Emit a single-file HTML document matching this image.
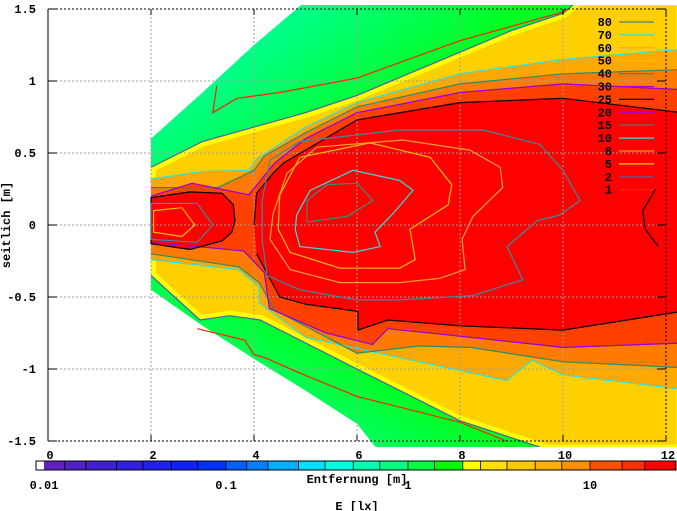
<!DOCTYPE html>
<html><head><meta charset="utf-8">
<style>
html,body{margin:0;padding:0;background:#fff;}
svg{display:block;font-family:"Liberation Mono",monospace;font-weight:bold;font-size:12px;}
</style></head>
<body>
<svg id="chart" width="677" height="511" viewBox="0 0 677 511" xmlns="http://www.w3.org/2000/svg">
<defs>
<linearGradient id="gTop" gradientUnits="userSpaceOnUse" x1="190" y1="60" x2="290" y2="190"><stop offset="0" stop-color="#00ffa0"/><stop offset="1" stop-color="#00ff20"/></linearGradient>
<linearGradient id="gBot" gradientUnits="userSpaceOnUse" x1="230" y1="420" x2="290" y2="320"><stop offset="0" stop-color="#00ff90"/><stop offset="1" stop-color="#00ff20"/></linearGradient>
<clipPath id="plotClip"><rect x="48" y="5" width="629" height="442"/></clipPath>
</defs>
<g id="fills" clip-path="url(#plotClip)"></g>
<g id="grid"></g>
<g id="lines" clip-path="url(#plotClip)"></g>
<g id="axes"></g>
<g id="legend"></g>
<g id="cbar"></g>
</svg>
<script>
// ---- data (data units: x = Entfernung [m], y = seitlich [m]) ----
const xTicks = [0,2,4,6,8,10,12];
const yTicks = [-1.5,-1,-0.5,0,0.5,1,1.5];
const yTickLabels = ["-1.5","-1","-0.5","0","0.5","1","1.5"];
const envTop = [[2,0.6],[3,0.92],[4,1.25],[5.02,1.56],[12.3,1.56]];
const envBot = [[12.3,-1.56],[6.4,-1.56],[6,-1.38],[5,-1.15],[4,-0.93],[3,-0.7],[2,-0.45]];
const lev2Top = [[2,0.4],[3,0.58],[4,0.68],[5,0.78],[6,0.9],[7,1.05],[8,1.2],[9,1.35],[10,1.47],[10.3,1.56],[12.3,1.56]];
const lev2Bot = [[12.3,-1.56],[9.7,-1.56],[8,-1.36],[6,-1.0],[4.12,-0.66],[3.53,-0.63],[2.95,-0.66],[2,-0.35]];
const lev10Top = [[2,0.32],[3,0.37],[3.9,0.38],[4.05,0.46],[5,0.68],[6,0.85],[8,1.05],[10,1.15],[12.3,1.22]];
const lev10Bot = [[12.3,-1.14],[10,-1.04],[9.4,-0.94],[8.9,-1.08],[5,-0.78],[4.1,-0.54],[4.1,-0.43],[3.7,-0.31],[2,-0.24]];
const lev15Top = [[2,0.26],[3.3,0.26],[4.0,0.38],[4.2,0.48],[5,0.64],[6,0.82],[8,0.98],[10,1.05],[12.3,1.08]];
const lev15Bot = [[12.3,-0.99],[10,-0.95],[8.2,-0.85],[7.2,-0.84],[6.0,-0.89],[4.4,-0.59],[4.1,-0.4],[3.7,-0.29],[2,-0.2]];
const lev20Top = [[2,0.2],[2.8,0.29],[3.9,0.21],[4.4,0.43],[5,0.6],[6,0.78],[8,0.92],[10,0.98],[12.3,0.94]];
const lev20Bot = [[12.3,-0.82],[10,-0.85],[8.2,-0.78],[6.6,-0.72],[6.3,-0.83],[5.4,-0.75],[4.3,-0.58],[4.2,-0.33],[3.8,-0.18],[2,-0.12]];
const lev25Top = [[4.0,0.0],[4.05,0.22],[4.37,0.36],[4.57,0.43],[5,0.52],[6,0.73],[8,0.85],[10,0.88],[12.3,0.78]];
const lev25Bot = [[12.3,-0.6],[10,-0.73],[8,-0.7],[6.6,-0.66],[6.02,-0.73],[6.02,-0.6],[5.0,-0.55],[4.5,-0.5],[4.05,-0.2]];
const blob25 = [[2,0.19],[2.76,0.23],[3.38,0.22],[3.6,0.14],[3.63,0.03],[3.57,-0.05],[3.38,-0.11],[2.76,-0.17],[2,-0.13]];
const loop40 = [[4.31,0.45],[4.89,0.58],[6.83,0.66],[8.45,0.66],[9.55,0.56],[10,0.38],[10.33,0.17],[9.94,0.07],[9.5,0.03],[8.91,-0.15],[9.22,-0.38],[8.25,-0.49],[6.83,-0.52],[6,-0.52],[4.89,-0.45],[4.25,-0.35],[4.16,-0.1],[4.16,0.17]];
const loop60 = [[5.22,0.54],[6.89,0.59],[8.19,0.52],[8.78,0.4],[8.83,0.26],[8.25,0.06],[8.04,-0.1],[8.1,-0.31],[7.61,-0.37],[6.83,-0.4],[5.67,-0.4],[4.7,-0.31],[4.31,-0.1],[4.37,0.08],[4.64,0.36]];
const loop50 = [[4.89,0.47],[6.25,0.57],[7.42,0.47],[7.84,0.28],[7.77,0.14],[7.03,-0.03],[7.13,-0.24],[6.83,-0.3],[5.67,-0.3],[4.7,-0.19],[4.47,-0.03],[4.5,0.21]];
const loop70 = [[4.83,0.07],[5.09,0.24],[5.92,0.38],[6.83,0.31],[7.09,0.24],[6.7,0.08],[6.35,-0.05],[6.45,-0.15],[5.92,-0.19],[4.89,-0.15],[4.8,-0.03]];
const loop80 = [[5.03,0.17],[5.42,0.28],[6,0.29],[6.31,0.17],[5.81,0.06],[5.03,0.02]];
const blob40 = [[2,0.15],[2.9,0.15],[3.2,0.0],[2.9,-0.12],[2,-0.1]];
const blob50 = [[2.05,0.1],[2.6,0.12],[2.85,0.0],[2.6,-0.08],[2.05,-0.05]];
const lev1Top = [[3.28,0.97],[3.2,0.78],[3.67,0.88],[4.5,0.92],[6,1.02],[8,1.28],[10,1.48],[10.1,1.5]];
const lev1Bot = [[2.9,-0.72],[3.82,-0.8],[4.0,-0.9],[4.2,-0.92],[4.9,-1.03],[6,-1.19],[8,-1.37],[8.9,-1.5]];
const rightBlob25 = [[11.8,0.25],[11.55,0.1],[11.6,-0.03],[11.85,-0.15]];
const legendLevels = ["80","70","60","50","40","30","25","20","15","10","8","5","2","1"];
const legendColors = ["#3c8a7a","#30e0e0","#ffa030","#ffc000","#3c8a7a","#a000ff","#000000","#9000e0","#2e8b6a","#30e0e0","#ff9900","#ffd000","#5060a0","#ff2000"];
const cbTickVals = [0.01,0.1,1,10];
const cbTickLabels = ["0.01","0.1","1","10"];
const cbEdges = [0.01,0.013,0.017,0.025,0.035,0.05,0.07,0.1,0.13,0.17,0.25,0.35,0.5,0.7,1,1.4,2,2.5,3.5,5,7,10,15,20,30];
const cbColors = ["#6020c0","#5020c8","#4020d0","#3020e0","#2020f0","#1020ff","#0030ff","#0060ff","#0080ff","#00b0ff","#00e0ff","#00ffe0","#00ffb0","#00ff80","#00ff40","#00ff00","#ffff00","#ffe000","#ffc800","#ffb000","#ff9000","#ff5000","#ff3000","#ff0000"];

const NS="http://www.w3.org/2000/svg";
const X0=48,X1=666,Y0=9,Y1=441;
function X(v){return X0+(v-0)/(12-0)*(X1-X0);}
function Y(v){return Y1-(v+1.5)/3*(Y1-Y0);}
function mk(tag,attrs,parent){const e=document.createElementNS(NS,tag);for(const k in attrs)e.setAttribute(k,attrs[k]);parent.appendChild(e);return e;}
function pts(a){return a.map(p=>X(p[0]).toFixed(1)+","+Y(p[1]).toFixed(1)).join(" ");}
const fills=document.getElementById('fills'),lines=document.getElementById('lines');

const envUp=envTop.concat([[12.3,0],[2,0]]);
const envDn=[[2,0],[12.3,0]].concat(envBot);
let e=mk('polygon',{points:pts(envUp),fill:'url(#gTop)'},fills);


e=mk('polygon',{points:pts(envDn),fill:'url(#gBot)'},fills);



function band(top,bot,fill,name){
  const p=mk('polygon',{points:pts(top.concat(bot)),fill:fill},fills);
  
  
  return p;
}
band(lev2Top,lev2Bot,'#ffd000','region-2lx');
const cp=mk('clipPath',{id:'c2'},document.querySelector('defs'));
mk('polygon',{points:pts(lev2Top.concat(lev2Bot))},cp);
const ye=mk('polygon',{points:pts(lev2Top.concat(lev2Bot)),fill:'none',stroke:'#ffff00','stroke-width':10,'clip-path':'url(#c2)'},fills);


band(lev10Top,lev10Bot,'#ffa800','region-10lx');
band(lev15Top,lev15Bot,'#ff7a00','region-15lx');
band(lev20Top,lev20Bot,'#ff4000','region-20lx');
band(lev25Top,lev25Bot,'#ff0000','region-25lx');
e=mk('polygon',{points:pts(blob25),fill:'#ff0000'},fills);



function line(a,color,closed,name,w){
  const l=mk(closed?'polygon':'polyline',{points:pts(a),fill:'none',stroke:color,'stroke-width':w||1.2},lines);
  
  
}
line(lev2Top,'#5060a0',false,'contour-2-top');
line(lev2Bot,'#5060a0',false,'contour-2-bottom');
line(lev1Top,'#ff2000',false,'contour-1-top');
line(lev1Bot,'#ff2000',false,'contour-1-bottom');
line(lev10Top,'#30e0e0',false,'contour-10-top');
line(lev10Bot,'#30e0e0',false,'contour-10-bottom');
line(lev15Top,'#2e8b6a',false,'contour-15-top');
line(lev15Bot,'#2e8b6a',false,'contour-15-bottom');
line(lev20Top,'#9000e0',false,'contour-20-top');
line(lev20Bot,'#9000e0',false,'contour-20-bottom');
line(lev25Top,'#000000',false,'contour-25-top');
line(lev25Bot,'#000000',false,'contour-25-bottom');
line(blob25,'#000000',true,'contour-25-near');
line(rightBlob25,'#000000',false,'contour-25-right');
line(blob40,'#3c8a9a',true,'contour-40-near');
line(blob50,'#ffc000',true,'contour-50-near');
line(loop40,'#3c8a9a',true,'contour-40');
line(loop60,'#ffa030',true,'contour-60');
line(loop50,'#ffc000',true,'contour-50');
line(loop70,'#30e0e0',true,'contour-70');
line(loop80,'#3c8a7a',true,'contour-80');

const grid=document.getElementById('grid'),axes=document.getElementById('axes');
xTicks.forEach((t,i)=>{
  if(t>0&&t<12){const g=mk('line',{x1:X(t),x2:X(t),y1:Y0,y2:Y1,stroke:'#a0a0a0','stroke-dasharray':'2,2'},grid);
  
  }
  mk('line',{x1:X(t),x2:X(t),y1:Y1,y2:Y1-6,stroke:'#000'},axes);
  mk('line',{x1:X(t),x2:X(t),y1:Y0,y2:Y0+6,stroke:'#000'},axes);
  const tx=mk('text',{x:X(t)+2,y:459,'text-anchor':'middle'},axes);tx.textContent=String(t);
  
  
});
yTicks.forEach((t,i)=>{
  if(t>-1.5&&t<1.5){const g=mk('line',{x1:X0,x2:X1,y1:Y(t),y2:Y(t),stroke:'#a0a0a0','stroke-dasharray':'2,2'},grid);
  
  }
  mk('line',{x1:X0,x2:X0+9,y1:Y(t),y2:Y(t),stroke:'#000'},axes);
  mk('line',{x1:X1,x2:X1-9,y1:Y(t),y2:Y(t),stroke:'#000'},axes);
  const tx=mk('text',{x:36,y:Y(t)+4,'text-anchor':'end'},axes);tx.textContent=yTickLabels[i];
  
  
});
const border=mk('rect',{x:X0,y:Y0,width:X1-X0,height:Y1-Y0,fill:'none',stroke:'#000','stroke-dasharray':'2,2'},axes);


mk('line',{x1:X0,x2:X0,y1:Y0,y2:Y1,stroke:'#000'},axes);
let t=mk('text',{x:10,y:225,'text-anchor':'middle',transform:'rotate(-90 10 225)'},axes);t.textContent='seitlich [m]';


t=mk('text',{x:357,y:483,'text-anchor':'middle'},axes);t.textContent='Entfernung [m]';



const leg=document.getElementById('legend');
legendLevels.forEach((lv,i)=>{
  const y=22+i*12.9;
  const tx=mk('text',{x:612,y:y+4,'text-anchor':'end'},leg);tx.textContent=lv;
  
  
  const l=mk('line',{x1:619,x2:654,y1:y,y2:y,stroke:legendColors[i],'stroke-width':1.2},leg);
  
  
});

const cb=document.getElementById('cbar');
const CX0=36,CX1=676,CY=461,CH=9;
function CX(v){return 44+(Math.log10(v)-Math.log10(0.01))/3*(590-44);}
for(let i=0;i<cbColors.length;i++){
  const x1=Math.max(CX0,CX(cbEdges[i])),x2=Math.min(CX1,CX(cbEdges[i+1]));
  const r=mk('rect',{x:x1,y:CY,width:Math.max(0,x2-x1)+0.5,height:CH,fill:cbColors[i]},cb);
  
  
  if(i>0) mk('line',{x1:x1,x2:x1,y1:CY,y2:CY+CH,stroke:'#000','stroke-width':0.8},cb);
}
const cbr=mk('rect',{x:CX0,y:CY,width:CX1-CX0,height:CH,fill:'none',stroke:'#000'},cb);


cbTickVals.forEach((v,i)=>{
  const tx=mk('text',{x:CX(v),y:489,'text-anchor':'middle'},cb);tx.textContent=cbTickLabels[i];
  
  
});
t=mk('text',{x:357,y:510,'text-anchor':'middle'},cb);t.textContent='E [lx]';


</script>
</body></html>
